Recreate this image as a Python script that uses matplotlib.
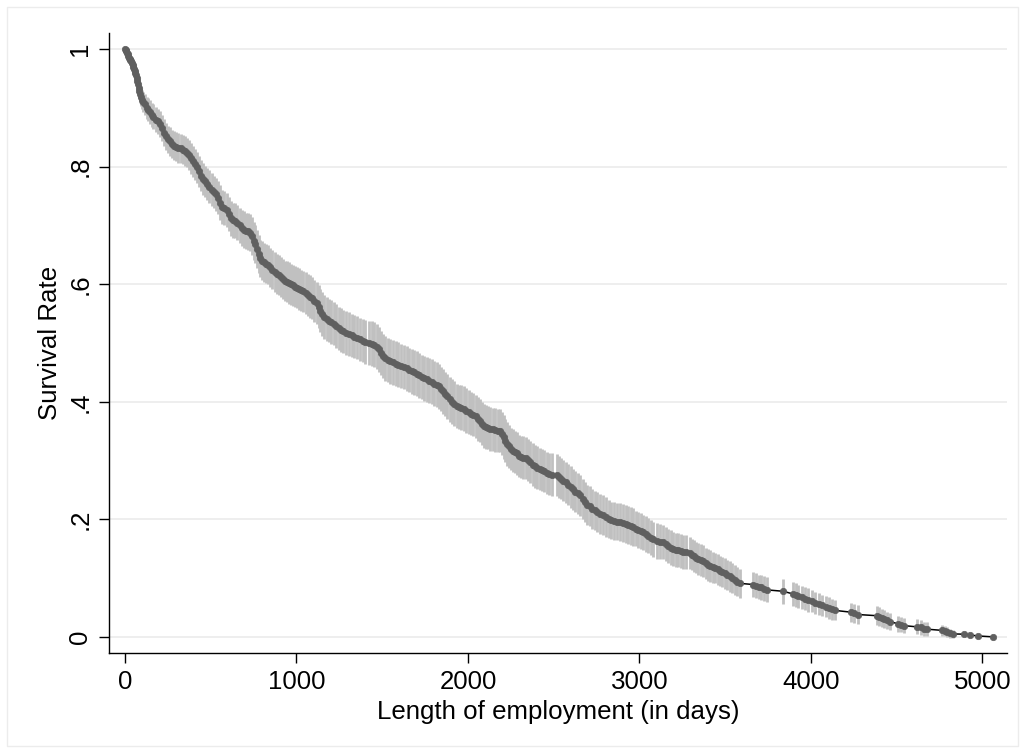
import numpy as np
import matplotlib
matplotlib.use("Agg")
import matplotlib.pyplot as plt
from matplotlib.patches import Rectangle

# ---- data (Kaplan-Meier estimate with CI) ----
days = [
    0, 4, 8, 12, 16, 20, 24, 28, 32, 36,
    40, 44, 48, 52, 56, 60, 64, 68, 72, 76,
    80, 84, 88, 92, 97, 106, 116, 126, 136, 146,
    156, 166, 178, 190, 204, 216, 228, 240, 252, 264,
    276, 288, 300, 312, 324, 336, 348, 360, 372, 384,
    396, 408, 420, 432, 444, 456, 468, 480, 492, 505,
    518, 531, 544, 556, 568, 580, 593, 606, 618, 630,
    642, 655, 668, 680, 692, 704, 716, 729, 740, 750,
    760, 770, 780, 790, 800, 812, 824, 836, 848, 860,
    872, 884, 896, 908, 920, 932, 944, 956, 968, 980,
    992, 1004, 1016, 1028, 1040, 1054, 1066, 1079, 1092, 1105,
    1118, 1130, 1140, 1150, 1162, 1176, 1190, 1204, 1218, 1232,
    1246, 1260, 1274, 1290, 1306, 1322, 1338, 1354, 1370, 1386,
    1402, 1420, 1438, 1454, 1468, 1480, 1492, 1504, 1518, 1532,
    1546, 1562, 1578, 1594, 1610, 1626, 1642, 1658, 1672, 1686,
    1701, 1716, 1730, 1744, 1759, 1774, 1788, 1802, 1817, 1830,
    1844, 1856, 1868, 1880, 1895, 1908, 1920, 1934, 1948, 1962,
    1976, 1990, 2004, 2018, 2031, 2044, 2057, 2070, 2082, 2094,
    2106, 2118, 2130, 2145, 2160, 2175, 2187, 2198, 2208, 2218,
    2228, 2238, 2250, 2262, 2274, 2286, 2298, 2310, 2322, 2336,
    2350, 2364, 2378, 2391, 2404, 2418, 2432, 2446, 2460, 2474,
    2488, 2517, 2530, 2543, 2556, 2570, 2584, 2598, 2612, 2626,
    2640, 2654, 2668, 2682, 2696, 2711, 2726, 2740, 2755, 2770,
    2789, 2806, 2822, 2836, 2852, 2868, 2886, 2906, 2920, 2935,
    2950, 2964, 2978, 2994, 3008, 3023, 3038, 3052, 3066, 3081,
    3100, 3120, 3139, 3154, 3168, 3182, 3197, 3212, 3226, 3240,
    3256, 3272, 3294, 3306, 3318, 3330, 3342, 3356, 3372, 3386,
    3400, 3414, 3428, 3442, 3456, 3470, 3484, 3498, 3513, 3528,
    3542, 3556, 3570, 3586, 3664, 3680, 3695, 3710, 3725, 3741,
    3839, 3895, 3910, 3925, 3945, 3965, 3985, 4005, 4025, 4045,
    4065, 4085, 4105, 4125, 4140, 4232, 4250, 4272, 4383, 4398,
    4412, 4428, 4444, 4460, 4510, 4525, 4545, 4618, 4640, 4660,
    4678, 4765, 4780, 4795, 4812, 4826, 4895, 4930, 4976, 5060,
]

survival = [
    1.000, .999, .997, .994, .991, .988, .985, .983, .981, .979,
    .976, .973, .970, .967, .963, .960, .956, .951, .945, .940,
    .934, .929, .924, .919, .914, .910, .906, .900, .897, .893,
    .888, .885, .880, .877, .873, .866, .858, .852, .847, .843,
    .838, .836, .834, .832, .831, .829, .827, .824, .820, .814,
    .809, .804, .799, .792, .785, .779, .775, .771, .766, .761,
    .757, .753, .747, .739, .732, .729, .726, .719, .712, .709,
    .708, .705, .700, .696, .693, .691, .690, .688, .682, .674,
    .668, .660, .651, .644, .640, .637, .635, .633, .629, .625,
    .621, .618, .615, .612, .609, .606, .604, .602, .600, .598,
    .596, .594, .592, .590, .588, .585, .582, .579, .576, .572,
    .568, .562, .555, .549, .544, .541, .538, .536, .533, .529,
    .525, .522, .520, .517, .515, .513, .511, .509, .506, .504,
    .502, .500, .499, .497, .494, .489, .483, .478, .474, .471,
    .469, .467, .465, .463, .461, .459, .457, .454, .452, .450,
    .448, .445, .442, .440, .438, .436, .434, .431, .429, .426,
    .422, .418, .413, .409, .404, .400, .397, .393, .391, .390,
    .388, .385, .383, .380, .378, .375, .371, .368, .363, .359,
    .357, .356, .354, .353, .352, .351, .351, .346, .340, .334,
    .328, .324, .320, .317, .315, .312, .308, .306, .305, .304,
    .301, .297, .293, .290, .288, .286, .284, .282, .279, .277,
    .276, .275, .272, .269, .266, .263, .259, .255, .251, .247,
    .244, .241, .235, .229, .225, .222, .218, .215, .212, .209,
    .207, .204, .201, .198, .197, .196, .195, .194, .192, .190,
    .189, .187, .184, .182, .180, .178, .175, .172, .169, .166,
    .163, .162, .161, .158, .155, .152, .150, .148, .147, .146,
    .145, .144, .143, .140, .137, .135, .133, .131, .129, .125,
    .122, .120, .118, .117, .115, .112, .110, .108, .105, .103,
    .100, .097, .094, .091, .089, .087, .085, .084, .082, .080,
    .0775, .073, .071, .069, .067, .065, .063, .061, .058, .056,
    .054, .051, .049, .047, .045, .042, .040, .038, .036, .034,
    .032, .030, .028, .026, .022, .021, .019, .017, .016, .014,
    .013, .011, .010, .008, .006, .005, .0045, .003, .0015, .000,
]

# half-width of the confidence interval (nan = no interval drawn)
ci_half = [
    .000, .002, .004, .005, .006, .006, .007, .007, .008, .008,
    .009, .009, .010, .010, .011, .011, .012, .012, .013, .013,
    .014, .014, .015, .015, .016, .017, .018, .019, .020, .020,
    .021, .021, .021, .022, .022, .022, .023, .023, .023, .024,
    .024, .024, .025, .025, .025, .025, .025, .025, .026, .026,
    .026, .026, .026, .027, .027, .027, .027, .027, .028, .028,
    .028, .028, .028, .029, .029, .029, .029, .029, .030, .030,
    .030, .030, .030, .031, .031, .031, .031, .031, .032, .032,
    .032, .032, .032, .032, .033, .033, .033, .033, .033, .033,
    .034, .034, .034, .034, .034, .034, .035, .035, .035, .035,
    .035, .035, .035, .035, .035, .036, .036, .036, .036, .036,
    .036, .036, .037, .037, .037, .037, .037, .037, .037, .037,
    .037, .037, .037, .037, .037, .037, .037, .037, .037, .037,
    .037, .037, .038, .038, .038, .038, .038, .038, .038, .038,
    .038, .038, .038, .038, .038, .038, .038, .038, .038, .038,
    .038, .038, .038, .038, .038, .038, .038, .038, .038, .038,
    .038, .038, .038, .038, .038, .038, .038, .038, .038, .038,
    .038, .038, .037, .037, .037, .037, .037, .037, .037, .037,
    .037, .037, .037, .037, .037, .037, .037, .037, .037, .037,
    .037, .037, .036, .036, .036, .036, .036, .036, .036, .036,
    .036, .036, .036, .036, .036, .036, .036, .036, .036, .036,
    .036, .036, .035, .035, .035, .035, .035, .035, .035, .035,
    .035, .035, .034, .034, .034, .034, .034, .034, .034, .034,
    .034, .034, .032, .032, .032, .032, .032, .032, .032, .032,
    .032, .032, .030, .030, .030, .030, .030, .030, .030, .030,
    .030, .030, .029, .029, .029, .029, .029, .029, .029, .029,
    .029, .029, .027, .027, .027, .027, .027, .027, .027, .027,
    .027, .027, .026, .026, .026, .026, .026, .026, .026, .026,
    .026, .026, .025, .025, .021, .021, .021, .021, .021, .021,
    .021, .020, .020, .020, .020, .020, .020, .019, .019, .019,
    .018, .018, .018, .018, .017, .016, .016, .016, .016, .016,
    .015, .015, .015, .014, .013, .013, .013, .013, .013, .012,
    .012, .009, .009, .008, .008, .007, np.nan, np.nan, np.nan, np.nan,
]

x_ticks = [0, 1000, 2000, 3000, 4000, 5000]
y_ticks = [0, .2, .4, .6, .8, 1]
y_tick_labels = ["0", ".2", ".4", ".6", ".8", "1"]
x_title = "Length of employment (in days)"
y_title = "Survival Rate"

# ---- figure ----
plt.rcParams['font.family'] = ['Liberation Sans', 'DejaVu Sans']
W, H = 1026, 752
fig = plt.figure(figsize=(W / 100, H / 100), dpi=100)
fig.patch.set_facecolor('white')
fig.patches.append(Rectangle((7 / W, 6 / H), (1018 - 7) / W, (745 - 6) / H,
                             transform=fig.transFigure, fill=False,
                             ec='#ececec', lw=1.0))

ax = fig.add_axes([108.7 / W, (H - 653.3) / H, (1007 - 108.7) / W, (653.3 - 32.7) / H])

t = np.array(days, dtype=float)
s = np.array(survival, dtype=float)
hw = np.array(ci_half, dtype=float)
m = ~np.isnan(hw)

ax.vlines(t[m], s[m] - hw[m], s[m] + hw[m], colors='#c0c0c0', lw=2.0, zorder=2)
ax.plot(t, s, color='black', lw=1.1, zorder=3)
ax.plot(t, s, ls='none', marker='o', ms=4.6, color='#5f5f5f',
        mec='#5f5f5f', mew=0.5, zorder=4)

ax.set_xlim(-95, 5143)
ax.set_ylim(-0.028, 1.028)
ax.set_xticks(x_ticks)
ax.set_xticklabels([str(v) for v in x_ticks])
ax.set_yticks(y_ticks)
ax.set_yticklabels(y_tick_labels, rotation=90, va='center')

ax.yaxis.grid(True, color='#eaeaea', lw=1.1)
ax.set_axisbelow(True)

for side in ('top', 'right'):
    ax.spines[side].set_visible(False)
for side in ('left', 'bottom'):
    ax.spines[side].set_linewidth(1.0)
    ax.spines[side].set_color('black')

FS = 18.6
ax.tick_params(axis='both', direction='out', length=7.2, width=1.0,
               labelsize=FS, colors='black')
ax.tick_params(axis='y', pad=4.5)
ax.tick_params(axis='x', pad=4.5)

ax.set_xlabel(x_title, fontsize=FS, labelpad=5)
ax.set_ylabel(y_title, fontsize=FS, labelpad=5)

fig.savefig('out.png', dpi=100, facecolor='white')
